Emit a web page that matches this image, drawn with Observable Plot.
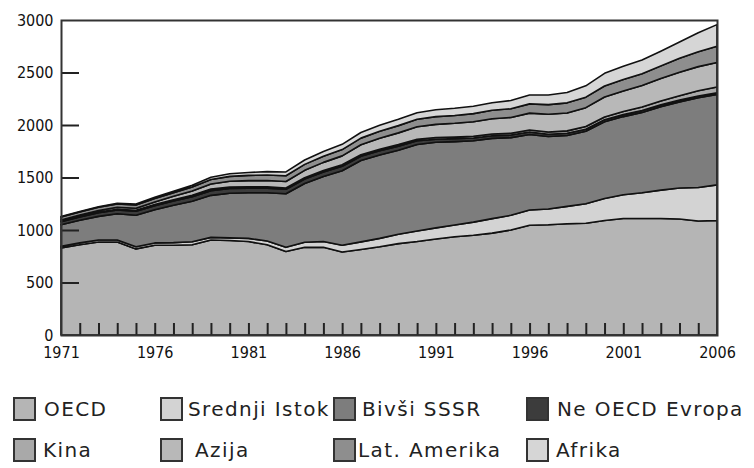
<!DOCTYPE html>
<html>
<head>
<meta charset="utf-8">
<script src="https://cdn.jsdelivr.net/npm/d3@7"></script>
<script src="https://cdn.jsdelivr.net/npm/@observablehq/plot@0.6"></script>
<style>
  html, body { margin: 0; padding: 0; background: #fff; }
  #wrap { position: relative; width: 754px; height: 468px; overflow: hidden; }
  .item { position: absolute; font-family: "DejaVu Sans", sans-serif; font-size: 20px; letter-spacing: 1.4px; color: #222; line-height: 24px; white-space: nowrap; }
  .box { position: absolute; width: 19px; height: 20px; border: 2px solid #333; }
</style>
</head>
<body>
<div id="wrap"></div>
<script>
const years = [1971,1972,1973,1974,1975,1976,1977,1978,1979,1980,1981,1982,1983,1984,1985,1986,1987,1988,1989,1990,1991,1992,1993,1994,1995,1996,1997,1998,1999,2000,2001,2002,2003,2004,2005,2006];
const regions = ["OECD","Srednji Istok","Bivši SSSR","Ne OECD Evropa","Kina","Azija","Lat. Amerika","Afrika"];
const colors  = ["#b5b5b5","#d3d3d3","#7d7d7d","#3c3c3c","#a9a9a9","#b8b8b8","#8e8e8e","#d6d6d6"];

const oecd   = [830,860,885,885,820,855,855,860,905,900,890,860,795,835,835,790,815,840,870,890,915,935,950,970,1000,1045,1050,1060,1065,1090,1110,1110,1110,1105,1085,1090];
const srIstok= [15,17,20,20,20,22,25,28,25,25,30,35,40,48,55,65,72,80,90,100,105,112,125,138,140,145,150,165,185,210,225,245,270,295,320,340];
const sssr   = [205,215,225,250,300,315,355,385,400,425,435,460,510,560,620,710,775,795,800,825,815,795,775,765,740,720,690,675,690,730,745,765,795,820,855,860];
const neOecdE= [30,32,34,36,38,40,42,44,45,45,44,44,43,43,43,42,41,40,38,35,30,28,26,25,24,23,22,21,20,20,19,18,18,17,17,16];
const kina   = [4,5,6,7,9,10,12,14,15,14,13,12,12,12,13,14,14,14,15,15,16,16,17,17,18,20,22,23,25,27,30,33,35,41,49,56];
const azija  = [12,14,16,18,20,25,32,40,48,55,58,60,62,70,78,85,95,105,112,118,125,130,138,145,150,160,168,170,180,190,195,205,215,225,230,234];
const latAm  = [28,29,30,31,31,33,35,38,43,47,50,53,55,57,58,60,63,66,69,72,74,75,77,80,83,88,92,97,100,105,110,113,120,132,142,153];
const afrika = [4,5,6,7,9,12,14,17,22,24,28,32,36,42,46,50,54,57,60,62,65,68,70,72,78,85,92,98,108,120,125,130,140,155,180,207];

const series = [oecd, srIstok, sssr, neOecdE, kina, azija, latAm, afrika];
const yTicks = [0,500,1000,1500,2000,2500,3000];
const yInner = [500,1000,1500,2000,2500];
const xLabels = [1971,1976,1981,1986,1991,1996,2001,2006];
const xMinor = years.filter(y => y > 1971 && y < 2006);

const data = regions.flatMap((r, i) => years.map((y, j) => ({year: y, region: r, value: series[i][j]})));

const W = 754, H = 375, mL = 61, mR = 37, mT = 20, mB = 40;
const innerW = W - mL - mR, innerH = H - mT - mB;

const chart = Plot.plot({
  width: W, height: H, marginLeft: mL, marginRight: mR, marginTop: mT, marginBottom: mB,
  x: {domain: [1971, 2006]},
  y: {domain: [0, 3000]},
  color: {domain: regions, range: colors},
  style: {fontFamily: "'DejaVu Sans Condensed', 'DejaVu Sans', sans-serif", color: "#111", background: "#fff"},
  marks: [
    Plot.areaY(data, {x: "year", y: "value", z: "region", fill: "region", order: regions, stroke: "#111", strokeWidth: 1.6, strokeLinejoin: "round"}),
    Plot.ruleY(yInner, {y: d => d, stroke: "#222", strokeWidth: 2, insetRight: innerW - 18}),
    Plot.ruleX(xMinor, {x: d => d, stroke: "#222", strokeWidth: 2, insetTop: innerH - 12}),
    Plot.frame({stroke: "#333", strokeWidth: 2}),
    Plot.axisY(yTicks, {tickSize: 0, tickPadding: 8, fontSize: 16, letterSpacing: "-1.2px", tickFormat: d => String(d), label: null}),
    Plot.axisX(xLabels, {tickSize: 0, tickPadding: 11, fontSize: 16, letterSpacing: "-1.2px", tickFormat: d => String(d), label: null})
  ]
});

const wrap = document.getElementById("wrap");
wrap.appendChild(chart);

const legendPos = [
  {bx: 13, tx: 44, row: 0},
  {bx: 160, tx: 188, row: 0},
  {bx: 333, tx: 362, row: 0},
  {bx: 526, tx: 557, row: 0},
  {bx: 13, tx: 43, row: 1},
  {bx: 160, tx: 195, row: 1},
  {bx: 333, tx: 358, row: 1},
  {bx: 526, tx: 556, row: 1}
];
const legendOrder = ["OECD","Srednji Istok","Bivši SSSR","Ne OECD Evropa","Kina","Azija","Lat. Amerika","Afrika"];
legendOrder.forEach((name, i) => {
  const p = legendPos[i];
  const top = p.row === 0 ? 397 : 438;
  const b = document.createElement("div");
  b.className = "box";
  b.style.left = p.bx + "px";
  b.style.top = top + "px";
  b.style.background = colors[regions.indexOf(name)];
  wrap.appendChild(b);
  const t = document.createElement("div");
  t.className = "item";
  t.style.left = p.tx + "px";
  t.style.top = top + "px";
  t.textContent = name;
  wrap.appendChild(t);
});
</script>
</body>
</html>
